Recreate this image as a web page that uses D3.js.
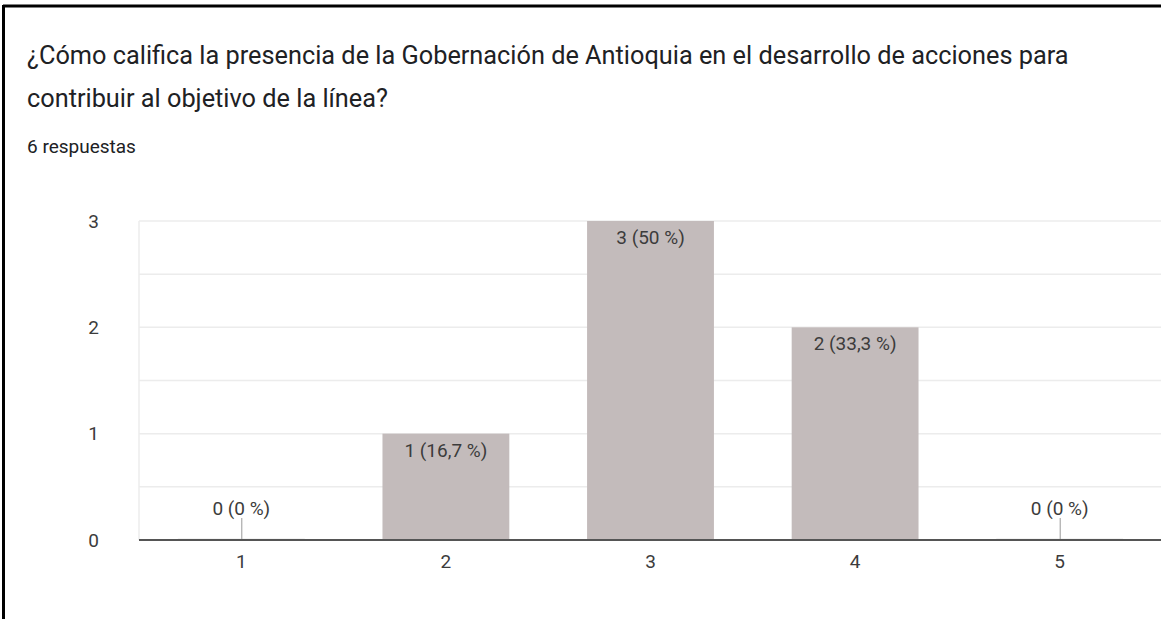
<!DOCTYPE html>
<html>
<head>
<meta charset="utf-8">
<script src="https://cdn.jsdelivr.net/npm/d3@7"></script>
<style>
  body { margin: 0; background: #fff; }
  text { font-family: Roboto, "Liberation Sans", sans-serif; }
</style>
</head>
<body>
<svg id="chart"></svg>
<script>
const categories = ["1", "2", "3", "4", "5"];
const counts = [0, 1, 3, 2, 0];
const labels = ["0 (0 %)", "1 (16,7 %)", "3 (50 %)", "2 (33,3 %)", "0 (0 %)"];
const yTicks = [0, 1, 2, 3];
const gridTicks = [0.5, 1, 1.5, 2, 2.5, 3];
const titleLines = [
  "¿Cómo califica la presencia de la Gobernación de Antioquia en el desarrollo de acciones para",
  "contribuir al objetivo de la línea?"
];
const subtitle = "6 respuestas";

const svgWidth = 1161,
    svgHeight = 619,
    margin = {top: 221, right: 0, bottom: 79, left: 139},
    width = svgWidth - margin.left - margin.right + 1,
    height = svgHeight - margin.top - margin.bottom;

const chart = d3.select("#chart")
    .attr("width", svgWidth)
    .attr("height", svgHeight);

// black frame, top and left only
chart.append("line")
    .attr("x1", 3.5).attr("x2", 3.5).attr("y1", 5).attr("y2", svgHeight)
    .attr("stroke", "#000").attr("stroke-width", 3);
chart.append("line")
    .attr("x1", 3).attr("x2", svgWidth).attr("y1", 6).attr("y2", 6)
    .attr("stroke", "#000").attr("stroke-width", 3);

chart.selectAll(".title")
    .data(titleLines)
    .enter().append("text")
    .attr("class", "title")
    .attr("x", 27)
    .attr("y", (d, i) => 64 + i * 43)
    .attr("fill", "#202124")
    .style("font-size", "25.3px")
    .text(d => d);

chart.append("text")
    .attr("x", 27)
    .attr("y", 153)
    .attr("fill", "#202124")
    .style("font-size", "19px")
    .text(subtitle);

const inner = chart.append("g")
    .attr("transform", "translate(" + margin.left + "," + margin.top + ")");

var xScale = d3.scaleBand().domain(categories).range([0, width]).paddingInner(0.38).paddingOuter(0.19);
var yScale = d3.scaleLinear().domain([0, 3]).range([height, 0]);

// gridlines
inner.append("g").selectAll("line")
    .data(gridTicks)
    .enter().append("line")
    .attr("x1", 0).attr("x2", width)
    .attr("y1", d => yScale(d)).attr("y2", d => yScale(d))
    .attr("stroke", "#ececec").attr("stroke-width", 1.5);

inner.append("line")
    .attr("x1", 0).attr("x2", 0)
    .attr("y1", 0).attr("y2", height)
    .attr("stroke", "#ececec").attr("stroke-width", 1.5);

// bars
inner.append("g").selectAll("rect")
    .data(counts)
    .enter().append("rect")
    .attr("x", (d, i) => xScale(categories[i]))
    .attr("width", xScale.bandwidth())
    .attr("y", d => yScale(d))
    .attr("height", d => height - yScale(d))
    .attr("fill", "#c3bbbb");

// faint zero bars
inner.append("g").selectAll("line")
    .data(counts.map((d, i) => i).filter(i => counts[i] == 0))
    .enter().append("line")
    .attr("x1", i => xScale(categories[i]))
    .attr("x2", i => xScale(categories[i]) + xScale.bandwidth())
    .attr("y1", height - 1).attr("y2", height - 1)
    .attr("stroke", "#e6e6e6").attr("stroke-width", 1);

// bar labels
var lab = inner.append("g").selectAll("g")
    .data(counts)
    .enter().append("g");

lab.append("text")
    .attr("x", (d, i) => xScale(categories[i]) + xScale.bandwidth() / 2)
    .attr("y", d => d == 0 ? yScale(d) - 25 : yScale(d) + 23)
    .attr("text-anchor", "middle")
    .attr("fill", "#3c3c3c")
    .style("font-size", "19px")
    .text((d, i) => labels[i]);

// leader lines for empty categories
lab.each(function(d, i) {
    if (d != 0) return;
    var cx = xScale(categories[i]) + xScale.bandwidth() / 2 + 0.5;
    d3.select(this).append("line")
        .attr("x1", cx).attr("x2", cx)
        .attr("y1", height - 22).attr("y2", height)
        .attr("stroke", "#999").attr("stroke-width", 1);
});

// x axis line
inner.append("line")
    .attr("x1", 0).attr("x2", width)
    .attr("y1", height).attr("y2", height)
    .attr("stroke", "#555").attr("stroke-width", 2);

var xAxis = d3.axisBottom(xScale).tickSize(0).tickPadding(15);
var gx = inner.append("g")
    .attr("transform", "translate(0," + height + ")")
    .call(xAxis);
gx.select(".domain").remove();
gx.selectAll("text").attr("fill", "#3c3c3c").style("font-size", "19px").style("font-family", "Roboto");

var yAxis = d3.axisLeft(yScale).tickValues(yTicks).tickFormat(d3.format("d")).tickSize(0).tickPadding(40);
var gy = inner.append("g").call(yAxis);
gy.select(".domain").remove();
gy.selectAll("text").attr("fill", "#3c3c3c").style("font-size", "19px").style("font-family", "Roboto");
</script>
</body>
</html>
